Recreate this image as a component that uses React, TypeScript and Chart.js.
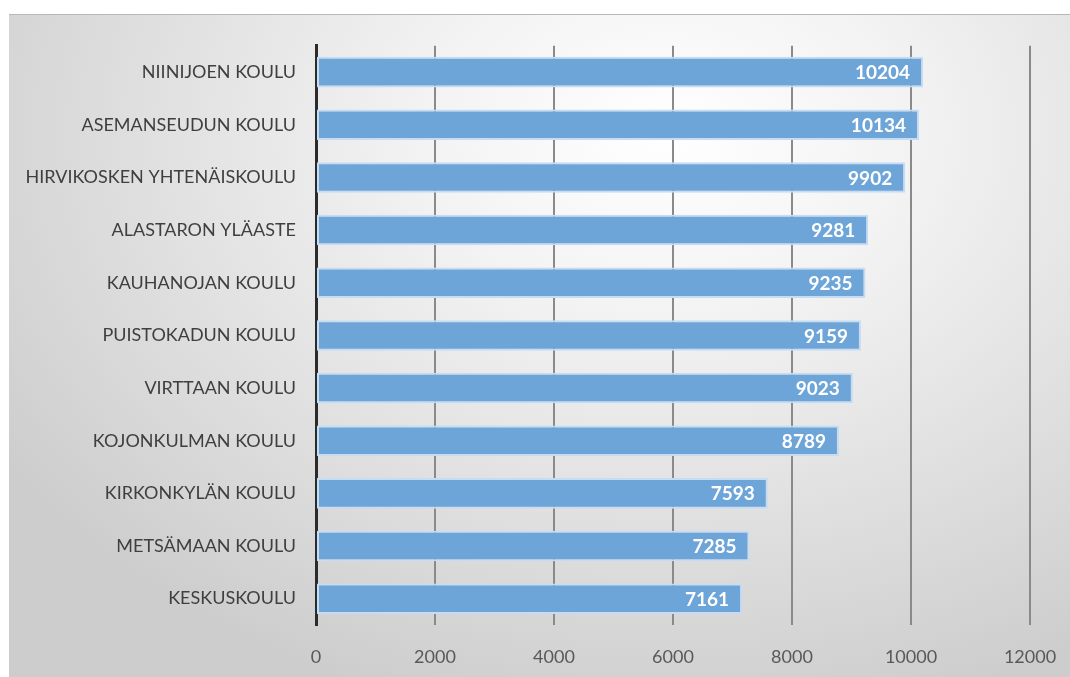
import React, { useEffect, useRef } from "react";
import { Chart, registerables } from "chart.js";

Chart.register(...registerables);

const schools = [
  "NIINIJOEN KOULU",
  "ASEMANSEUDUN KOULU",
  "HIRVIKOSKEN YHTENÄISKOULU",
  "ALASTARON YLÄASTE",
  "KAUHANOJAN KOULU",
  "PUISTOKADUN KOULU",
  "VIRTTAAN KOULU",
  "KOJONKULMAN KOULU",
  "KIRKONKYLÄN KOULU",
  "METSÄMAAN KOULU",
  "KESKUSKOULU",
];
const values = [10204, 10134, 9902, 9281, 9235, 9159, 9023, 8789, 7593, 7285, 7161];
const xMin = 0;
const xMax = 12000;
const xStep = 2000;

const FONT = "Lato, 'Open Sans', sans-serif";

const valueLabels = {
  id: "valueLabels",
  afterDatasetsDraw(chart: any) {
    const ctx = chart.ctx;
    const meta = chart.getDatasetMeta(0);
    ctx.save();
    ctx.fillStyle = "#ffffff";
    ctx.font = `bold 19px ${FONT}`;
    ctx.textAlign = "right";
    ctx.textBaseline = "middle";
    meta.data.forEach((bar: any, i: number) => {
      ctx.fillText(String(values[i]), bar.x - 13, bar.y + 1);
    });
    ctx.restore();
  },
};

export default function App() {
  const ref = useRef<HTMLCanvasElement | null>(null);
  useEffect(() => {
    if (!ref.current) return;
    const chart = new Chart(ref.current, {
      type: "bar",
      data: {
        labels: schools,
        datasets: [
          {
            data: values,
            backgroundColor: "#6ea5d9",
            borderColor: "#c5dcf2",
            borderWidth: 2,
            borderSkipped: false,
            barPercentage: 0.58,
            categoryPercentage: 1,
          },
        ],
      },
      options: {
        indexAxis: "y",
        animation: false,
        responsive: true,
        maintainAspectRatio: false,
        layout: { padding: { top: 27, right: 40, left: 0, bottom: 0 } },
        plugins: {
          legend: { display: false },
          tooltip: { enabled: false },
          title: { display: false },
        },
        scales: {
          x: {
            min: xMin,
            max: xMax,
            ticks: {
              stepSize: xStep,
              color: "#595959",
              font: { family: FONT, size: 18 },
              padding: 21,
              callback: (v: any) => String(v),
            },
            grid: {
              color: (c: any) => (c.index === 0 ? "rgba(0,0,0,0)" : "#8a8a8a"),
              lineWidth: 2,
              drawTicks: false,
            },
            border: { display: false },
            afterFit: (s: any) => {
              s.height = 52;
              s.paddingLeft = 0;
              s.paddingRight = 0;
            },
          },
          y: {
            ticks: {
              color: "#3f3f3f",
              font: { family: FONT, size: 18 },
              padding: 20,
            },
            grid: { display: false, drawTicks: false },
            border: { display: true, color: "#2b2b2b", width: 3 },
            afterFit: (s: any) => {
              s.width = 307;
            },
          },
        },
      },
      plugins: [valueLabels],
    });
    return () => chart.destroy();
  }, []);

  return (
    <div
      style={{
        position: "fixed",
        left: 9,
        top: 14,
        right: 0,
        bottom: 0,
        borderTop: "1px solid #b8b8b8",
        background:
          "radial-gradient(ellipse 75% 90% at 62% 18%, #ffffff 0%, #f3f3f3 30%, #e0e0e0 65%, #cdcdcd 100%)",
      }}
    >
      <canvas ref={ref} />
    </div>
  );
}
